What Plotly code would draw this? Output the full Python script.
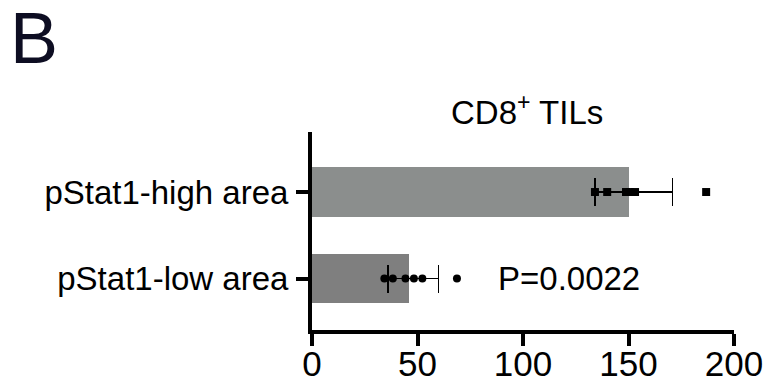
import plotly.graph_objects as go

# ---- data ----
categories = ["pStat1-low area", "pStat1-high area"]
bar_means = [46.0, 150.4]
err_plus = [14.0, 20.4]
err_minus = [10.1, 16.3]
high_points = [134.1, 139.9, 148.8, 150.6, 153.1, 186.8]
low_points = [34.3, 38.3, 44.3, 48.3, 52.3, 68.7]
x_ticks = [0, 50, 100, 150, 200]
title_text = "CD8<sup>+</sup> TILs"
panel_label = "B"
p_text = "P=0.0022"

FONT = "Liberation Sans, Arial, Helvetica, sans-serif"
bar_colors = ["#7f7f7f", "#8b8e8d"]

fig = go.Figure()
fig.add_trace(go.Bar(
    y=categories, x=bar_means, orientation="h",
    marker=dict(color=bar_colors, line=dict(width=0)),
    width=0.57,
    error_x=dict(type="data", symmetric=False, array=err_plus, arrayminus=err_minus,
                 color="black", thickness=1.5, width=14),
    showlegend=False,
))
fig.add_trace(go.Scatter(
    x=high_points, y=[categories[1]] * len(high_points), mode="markers",
    marker=dict(symbol="square", size=8, color="black"), showlegend=False,
))
fig.add_trace(go.Scatter(
    x=low_points, y=[categories[0]] * len(low_points), mode="markers",
    marker=dict(symbol="circle", size=8, color="black"), showlegend=False,
))

fig.add_annotation(text=p_text, x=122, y=categories[0], xref="x", yref="y",
                   xanchor="center", yanchor="middle", showarrow=False,
                   font=dict(family=FONT, size=33, color="black"))
fig.add_annotation(text=title_text, x=0.5, y=1, xref="paper", yref="paper",
                   xanchor="center", yanchor="bottom", showarrow=False, yshift=-1, xshift=4,
                   font=dict(family=FONT, size=33, color="black"))
fig.add_annotation(text=panel_label, x=-312 / 422, y=1 + 132 / 198, xref="paper", yref="paper",
                   xanchor="left", yanchor="top", showarrow=False, xshift=8, yshift=4,
                   font=dict(family=FONT, size=72, color="#0d0d22"))

fig.update_layout(
    width=765, height=380,
    margin=dict(l=312, r=31, t=132, b=50, autoexpand=False),
    plot_bgcolor="white", paper_bgcolor="white",
    bargap=0,
    font=dict(family=FONT, size=33, color="black"),
    xaxis=dict(range=[0, 200], tickvals=x_ticks, showgrid=False, zeroline=False,
               automargin=False,
               showline=True, linecolor="black", linewidth=4,
               ticks="outside", ticklen=12, tickwidth=4, tickcolor="black",
               ticklabelstandoff=-12,
               tickfont=dict(family=FONT, size=35)),
    yaxis=dict(type="category", categoryarray=categories, range=[-0.595, 1.694],
               showgrid=False, zeroline=False, automargin=False,
               showline=True, linecolor="black", linewidth=4,
               ticks="outside", ticklen=12, tickwidth=4, tickcolor="black",
               ticklabelstandoff=1,
               tickfont=dict(family=FONT, size=33)),
)

fig.write_html("out.html", config={"displayModeBar": False},
               post_script="document.body.style.margin='0';")
